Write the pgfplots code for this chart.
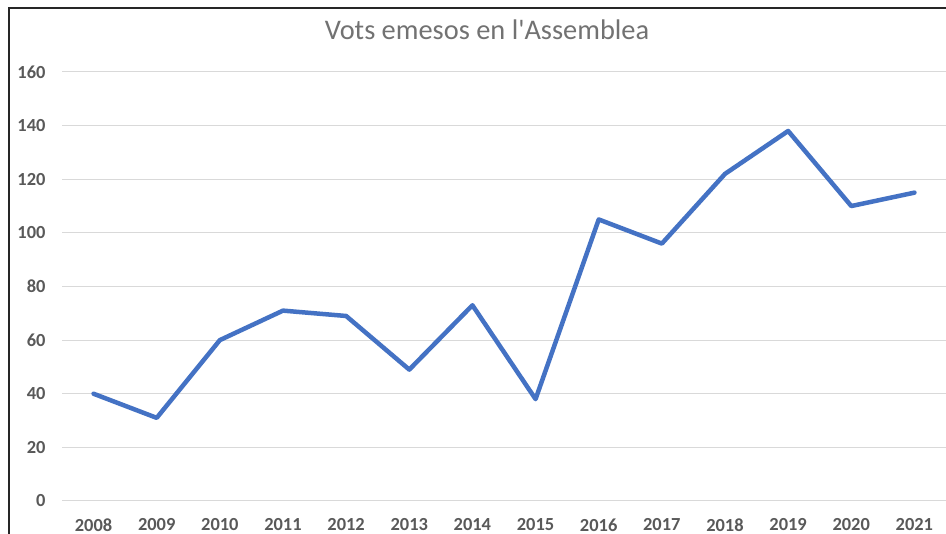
\documentclass[border=0pt]{standalone}
\usepackage{pgfplots}
\pgfplotsset{compat=1.18}
\usepackage{fontspec}
\setmainfont{Carlito}
\definecolor{lineblue}{HTML}{4472C4}
\definecolor{gridgray}{HTML}{D9D9D9}
\definecolor{txtgray}{HTML}{595959}
\begin{document}
\begin{tikzpicture}[x=1bp,y=1bp]
\path[use as bounding box] (0,0) rectangle (946,534);
\fill[white] (0,0) rectangle (946,534);
\draw[black!85, line width=1.2bp] (9,0) -- (9,526) -- (946,526);
\node[text=txtgray!85, font=\fontsize{28.5}{32}\selectfont] at (487,504) {Vots emesos en l\textquotesingle Assemblea};
\begin{axis}[
  at={(62bp,33bp)}, anchor=south west,
  scale only axis, width=884bp, height=429bp,
  xmin=2007.5, xmax=2021.5, ymin=0, ymax=160,
  xtick={2008,...,2021}, ytick={0,20,...,160},
  xticklabel style={/pgf/number format/1000 sep={}},
  /pgf/number format/assume math mode=true,
  ticklabel style={font=\bfseries\fontsize{18.5}{22}\selectfont, text=txtgray},
  xticklabel style={yshift=-14bp},
  yticklabel style={xshift=-13bp},
  axis line style={draw=none},
  major tick length=0pt,
  ymajorgrids, grid style={gridgray, line width=1bp},
  clip=false,
]
\addplot[lineblue, line width=4.5bp, line join=round, line cap=round] coordinates {
(2008,40) (2009,31) (2010,60) (2011,71) (2012,69) (2013,49) (2014,73)
(2015,38) (2016,105) (2017,96) (2018,122) (2019,138) (2020,110) (2021,115)
};
\end{axis}
\end{tikzpicture}
\end{document}
